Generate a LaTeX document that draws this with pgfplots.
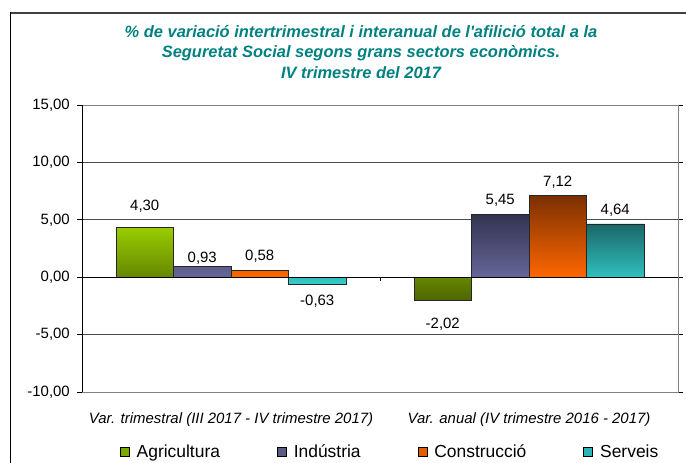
\documentclass[border=0pt]{standalone}
\usepackage{pgfplots}
\usepackage{pgfplotstable}
\pgfplotsset{compat=1.18}
\usepackage{fontspec}
\setmainfont{Liberation Sans}
\definecolor{titleteal}{RGB}{0,128,128}
\definecolor{agriT}{RGB}{153,204,0}
\definecolor{agriB}{RGB}{77,102,0}
\definecolor{indT}{RGB}{51,51,80}
\definecolor{indB}{RGB}{102,102,153}
\definecolor{conT}{RGB}{122,48,0}
\definecolor{conB}{RGB}{255,102,0}
\definecolor{serT}{RGB}{26,102,102}
\definecolor{serB}{RGB}{51,204,204}
\definecolor{agriL}{RGB}{120,170,0}
\definecolor{indL}{RGB}{90,90,135}
\definecolor{conL}{RGB}{230,90,0}
\definecolor{serL}{RGB}{45,180,180}

\pgfplotstableread{
x y dy
0 4.30 17.2
1 -2.02 -28.4
}\agri
\pgfplotstableread{
x y dy
0 0.93 4.2
1 5.45 10.0
}\ind
\pgfplotstableread{
x y dy
0 0.58 9.9
1 7.12 8.9
}\con
\pgfplotstableread{
x y dy
0 -0.63 -21.2
1 4.64 9.3
}\ser

\begin{document}
\begin{tikzpicture}[x=1bp,y=1bp]
\useasboundingbox (0,0) rectangle (686,463);
\draw[black!75, line width=1.5bp] (10,450) -- (700,450);
\draw[black, line width=1bp] (10,450.75) -- (10,-5);
\node[align=center, font=\fontsize{16.5}{21}\selectfont\bfseries\itshape, text=titleteal] at (361,411) {\% de variació intertrimestral i interanual de l\textquotesingle afilició total a la\\Seguretat Social segons grans sectors econòmics.\\IV trimestre del 2017};
\begin{axis}[
  at={(82bp,71bp)}, anchor=south west,
  scale only axis, width=596bp, height=287bp,
  xmin=-0.5, xmax=1.5, ymin=-10, ymax=15,
  xtick={0,1},
  xticklabels={Var. trimestral (III 2017 - IV trimestre 2017), Var. anual (IV trimestre 2016 - 2017)},
  xtick style={draw=none},
  ytick={-10,-5,0,5,10,15},
  ytick align=outside, major tick length=5bp,
  ytick style={black, line width=0.75bp},
  ymajorgrids, grid style={black!70, line width=0.75bp},
  axis line style={black!50, line width=0.75bp},
  /pgf/number format/assume math mode=true,
  yticklabel style={font=\fontsize{15}{18}\selectfont, anchor=east, inner sep=0pt, xshift=-7bp,
    /pgf/number format/.cd, fixed, fixed zerofill, precision=2, use comma},
  xticklabel style={font=\fontsize{15}{18}\selectfont\itshape, anchor=base, inner sep=0pt, yshift=-27bp},
  ybar=0pt, bar width=57.5bp,
  nodes near coords={\pgfmathprintnumber[fixed,fixed zerofill,precision=2,use comma,assume math mode=true]{\pgfplotspointmeta}},
  nodes near coords align={anchor=base},
  visualization depends on={\thisrow{dy} \as \dy},
  every node near coord/.append style={font=\fontsize{15}{18}\selectfont, inner sep=0pt, yshift={\dy*1bp}, text=black},
  legend columns=4,
  legend style={at={(0.517,-0.2095)}, anchor=center, draw=none, fill=none, font=\fontsize{17.5}{20}\selectfont,
    /tikz/every odd column/.append style={column sep=5bp},
    /tikz/every even column/.append style={column sep=55bp}},
]
\addplot[forget plot, bar shift=-86.25bp, draw=black!85, line width=0.75bp, top color=agriT, bottom color=agriB] table[x=x, y=y, meta=y] {\agri};
\addplot[forget plot, bar shift=-28.75bp, draw=black!85, line width=0.75bp, top color=indT, bottom color=indB] table[x=x, y=y, meta=y] {\ind};
\addplot[forget plot, bar shift=28.75bp, draw=black!85, line width=0.75bp, top color=conT, bottom color=conB] table[x=x, y=y, meta=y] {\con};
\addplot[forget plot, bar shift=86.25bp, draw=black!85, line width=0.75bp, top color=serT, bottom color=serB] table[x=x, y=y, meta=y] {\ser};
\draw[black, line width=1bp] (axis cs:-0.5,0) -- (axis cs:1.5,0);
\draw[black, line width=1bp] (rel axis cs:0,0) -- (rel axis cs:0,1);
\draw[black, line width=0.75bp] (axis cs:0.5,0) -- ([yshift=-4bp]axis cs:0.5,0);
\draw[black, line width=0.75bp] (axis cs:1.5,0) -- ([yshift=-4bp]axis cs:1.5,0);
\addlegendimage{legend image code/.code={\draw[fill=agriL, draw=black, line width=0.75bp] (0bp,-4.5bp) rectangle (9bp,4.5bp);}}
\addlegendentry{Agricultura}
\addlegendimage{legend image code/.code={\draw[fill=indL, draw=black, line width=0.75bp] (0bp,-4.5bp) rectangle (9bp,4.5bp);}}
\addlegendentry{Indústria}
\addlegendimage{legend image code/.code={\draw[fill=conL, draw=black, line width=0.75bp] (0bp,-4.5bp) rectangle (9bp,4.5bp);}}
\addlegendentry{Construcció}
\addlegendimage{legend image code/.code={\draw[fill=serL, draw=black, line width=0.75bp] (0bp,-4.5bp) rectangle (9bp,4.5bp);}}
\addlegendentry{Serveis}
\end{axis}
\end{tikzpicture}
\end{document}
